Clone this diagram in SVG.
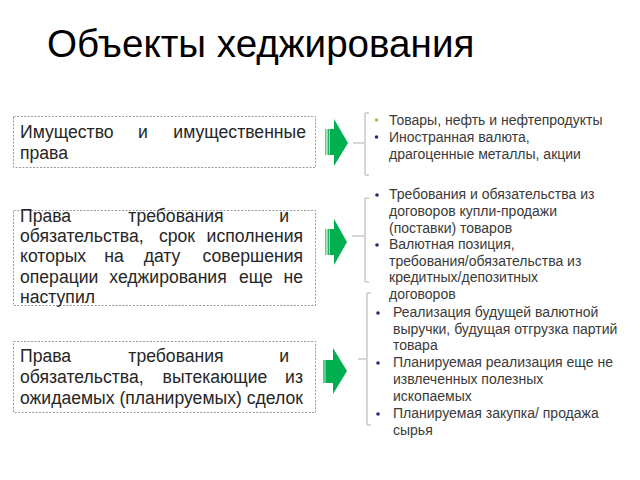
<svg xmlns="http://www.w3.org/2000/svg" width="640" height="480" viewBox="0 0 640 480">
<defs>
<style>
.title{font-family:"Liberation Sans",Arial,sans-serif;font-size:38.6px;fill:#000}
.bt{font-family:"Liberation Sans",Arial,sans-serif;font-size:17.6px;fill:#262626}
.rt{font-family:"Liberation Sans",Arial,sans-serif;font-size:14px;fill:#3a3a3a}
.box{fill:#fff;stroke:#9a9a9a;stroke-width:1;stroke-dasharray:2 1.5}
.br{fill:none;stroke:#c9c9c9;stroke-width:1.5}
.arr{fill:#00b050}
.s1{fill:#5fcb88}
.s2{fill:#1bb55e}
.bn{fill:#1f2f6b}
.bg{fill:#92d050}
</style>
</defs>
<rect width="640" height="480" fill="#fff"/>
<text class="title" x="47" y="57">Объекты хеджирования</text>

<g id="box1">
<rect class="box" x="13.5" y="116.5" width="302" height="51"/>
<text class="bt" x="20" y="138">Имущество</text>
<text class="bt" x="143" y="138" text-anchor="middle">и</text>
<text class="bt" x="306" y="138" text-anchor="end">имущественные</text>
<text class="bt" x="20" y="159">права</text>
</g>

<g id="box2">
<rect class="box" x="13.5" y="210.5" width="302" height="95"/>
<text class="bt" x="20" y="222">Права</text>
<text class="bt" x="176" y="222" text-anchor="middle">требования</text>
<text class="bt" x="289" y="222" text-anchor="end">и</text>
<text class="bt" x="20" y="242">обязательства,</text>
<text class="bt" x="177" y="242" text-anchor="middle">срок</text>
<text class="bt" x="303" y="242" text-anchor="end">исполнения</text>
<text class="bt" x="20" y="262">которых</text>
<text class="bt" x="114" y="262" text-anchor="middle">на</text>
<text class="bt" x="162" y="262" text-anchor="middle">дату</text>
<text class="bt" x="303" y="262" text-anchor="end">совершения</text>
<text class="bt" x="20" y="283">операции</text>
<text class="bt" x="168" y="283" text-anchor="middle">хеджирования</text>
<text class="bt" x="256" y="283" text-anchor="middle">еще</text>
<text class="bt" x="303" y="283" text-anchor="end">не</text>
<text class="bt" x="20" y="303">наступил</text>
</g>

<g id="box3">
<rect class="box" x="13.5" y="341.5" width="302" height="71"/>
<text class="bt" x="20" y="362">Права</text>
<text class="bt" x="176" y="362" text-anchor="middle">требования</text>
<text class="bt" x="289" y="362" text-anchor="end">и</text>
<text class="bt" x="20" y="383">обязательства,</text>
<text class="bt" x="215" y="383" text-anchor="middle">вытекающие</text>
<text class="bt" x="303" y="383" text-anchor="end">из</text>
<text class="bt" x="20" y="404">ожидаемых (планируемых) сделок</text>
</g>

<g id="list1">
<circle class="bg" cx="376.5" cy="120" r="1.8"/>
<circle class="bn" cx="376.5" cy="137" r="1.8"/>
<text class="rt" x="389" y="125">Товары, нефть и нефтепродукты</text>
<text class="rt" x="389" y="142">Иностранная валюта,</text>
<text class="rt" x="389" y="159">драгоценные металлы, акции</text>
</g>

<g id="list2">
<circle class="bn" cx="377" cy="195" r="1.8"/>
<circle class="bn" cx="377" cy="245" r="1.8"/>
<text class="rt" x="389" y="199">Требования и обязательства из</text>
<text class="rt" x="389" y="216">договоров купли-продажи</text>
<text class="rt" x="389" y="233">(поставки) товаров</text>
<text class="rt" x="389" y="249">Валютная позиция,</text>
<text class="rt" x="389" y="266">требования/обязательства из</text>
<text class="rt" x="389" y="282">кредитных/депозитных</text>
<text class="rt" x="389" y="299">договоров</text>
</g>

<g id="list3">
<circle class="bn" cx="378" cy="313" r="1.8"/>
<circle class="bn" cx="378" cy="363" r="1.8"/>
<circle class="bn" cx="378" cy="414" r="1.8"/>
<text class="rt" x="393" y="317">Реализация будущей валютной</text>
<text class="rt" x="393" y="334">выручки, будущая отгрузка партий</text>
<text class="rt" x="393" y="350">товара</text>
<text class="rt" x="393" y="367">Планируемая реализация еще не</text>
<text class="rt" x="393" y="384">извлеченных полезных</text>
<text class="rt" x="393" y="401">ископаемых</text>
<text class="rt" x="393" y="418">Планируемая закупка/ продажа</text>
<text class="rt" x="393" y="435">сырья</text>
</g>

<g id="connectors">
<g id="arrow1">
<rect class="s1" x="325" y="129" width="1.5" height="26"/>
<rect class="s2" x="327.5" y="129" width="2" height="26"/>
<polygon class="arr" points="330,129 334,129 334,119 348,143 334,166 334,155 330,155"/>
</g>
<g id="arrow2">
<rect class="s1" x="325" y="229" width="1.5" height="26"/>
<rect class="s2" x="327.5" y="229" width="2" height="26"/>
<polygon class="arr" points="330,229 334,229 334,219 347,242 334,265 334,255 330,255"/>
</g>
<g id="arrow3">
<rect class="s1" x="323" y="360" width="3" height="23"/>
<polygon class="arr" points="326,360 333,360 333,348 347,371 333,394 333,383 326,383"/>
</g>
<path class="br" d="M369,113 H366 Q365,113 365,114 V142 Q365,143 364,143 H353 M364,143 Q365,143 365,144 V174 Q365,175 366,175 H369"/>
<path class="br" d="M369,198 H366 Q365,198 365,199 V235 Q365,236 364,236 H352 M364,236 Q365,236 365,237 V281 Q365,282 366,282 H369"/>
<path class="br" d="M371,293 H368 Q367,293 367,294 V358 Q367,359 366,359 H358 M366,359 Q367,359 367,360 V424 Q367,425 368,425 H371"/>
</g>
</svg>
